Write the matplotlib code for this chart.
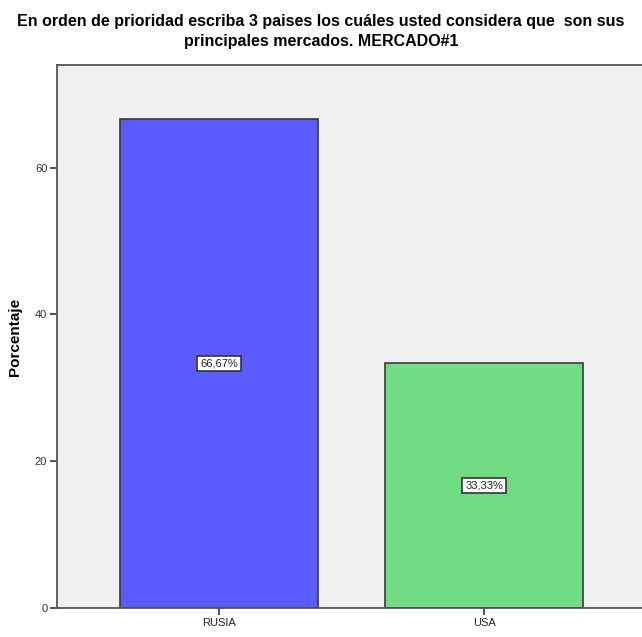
import matplotlib.pyplot as plt
import numpy as np

categories = ['RUSIA', 'USA']
values = [66.67, 33.33]
labels = ['66,67%', '33,33%']
colors = ['#5a5cff', '#70dc84']

narrow = ['Liberation Sans Narrow', 'Liberation Sans', 'DejaVu Sans']

fig = plt.figure(figsize=(6.42, 6.37), dpi=100)
ax = fig.add_axes([57 / 642, 29 / 637, 1 - 57 / 642, 543 / 637])
ax.set_facecolor('#f0f0f0')

x = np.arange(len(categories))
bars = ax.bar(x, values, width=0.75, color=colors, edgecolor='#3a3a3a', linewidth=1.2, zorder=2)
for xi, v, lab in zip(x, values, labels):
    ax.text(xi, v / 2, lab, ha='center', va='center', fontsize=8, family=narrow, color='#222222',
            bbox=dict(boxstyle='square,pad=0.25', fc='white', ec='#333333', lw=1.2), zorder=3)

ax.set_xlim(-0.611, 1.596)
ax.set_ylim(0, 74)
ax.set_xticks(x)
ax.set_xticklabels(categories, family=narrow, fontsize=8, color='#222222')
ax.set_yticks([0, 20, 40, 60])
ax.set_yticklabels(['0', '20', '40', '60'], family=narrow, fontsize=8, color='#333333')
ax.tick_params(axis='both', length=5, width=1.2, color='#333333', pad=2)
ax.spines['right'].set_visible(False)
for s in ['left', 'bottom', 'top']:
    ax.spines[s].set_color('#555555')
    ax.spines[s].set_linewidth(1.3)

ax.set_ylabel('Porcentaje', fontsize=11, fontweight='bold', family=['Liberation Sans', 'DejaVu Sans'], labelpad=9)
fig.suptitle('En orden de prioridad escriba 3 paises los cuáles usted considera que  son sus\nprincipales mercados. MERCADO#1',
             y=0.978, fontsize=11.5, fontweight='bold', family=narrow, linespacing=1.45)

fig.savefig('out.png', dpi=100)
